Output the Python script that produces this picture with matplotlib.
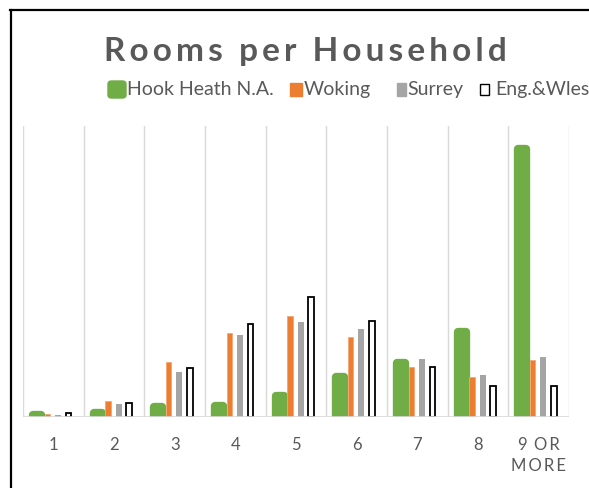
import matplotlib
matplotlib.use('Agg')
import matplotlib.pyplot as plt
import numpy as np
from matplotlib.patches import Rectangle, FancyBboxPatch
from matplotlib.lines import Line2D

# %%
categories = ['1', '2', '3', '4', '5', '6', '7', '8', '9 OR\nMORE']
series_names = ['Hook Heath N.A.', 'Woking', 'Surrey', 'Eng.&Wles']
hook_heath = [0.4, 0.8, 2.1, 2.3, 4.3, 8.2, 11.1, 17.5, 55.3]
woking = [0.6, 3.3, 11.3, 17.3, 20.8, 16.5, 10.3, 8.2, 11.8]
surrey = [0.4, 2.7, 9.3, 16.9, 19.6, 18.1, 12.0, 8.7, 12.4]
eng_wales = [0.8, 2.9, 10.1, 19.2, 24.7, 19.8, 10.3, 6.4, 6.4]

col_green = '#70AD47'
col_orange = '#ED7D31'
col_grey = '#A5A5A5'
col_text = '#595959'
fam = ['Lato', 'DejaVu Sans']

# %%
fig = plt.figure(figsize=(5.89, 4.88), dpi=100)
ax = fig.add_axes([23/589, 71/488, 546/589, 291/488])

x = np.arange(1, len(categories) + 1)

# green bars drawn with thick rounded edge like the Excel look
ax.bar(x - 0.27, hook_heath, 0.13, color=col_green, edgecolor=col_green,
       linewidth=6, joinstyle='round', zorder=3)
ax.bar(x - 0.10, woking, 0.085, color=col_orange, edgecolor='#F4A675',
       linewidth=0.6, zorder=3)
ax.bar(x + 0.075, surrey, 0.10, color=col_grey, linewidth=0, zorder=3)
ax.bar(x + 0.25, eng_wales, 0.09, color='white', edgecolor='black',
       linewidth=1.3, zorder=3)

ax.set_xlim(0.5, len(categories) + 0.5)
ax.set_ylim(0, 60)
for xv in np.arange(0.5, len(categories) + 1, 1):
    ax.axvline(xv, color='#D9D9D9', lw=1, zorder=1)
ax.axhline(0, color='#D9D9D9', lw=1.2, zorder=4)

for s in ax.spines.values():
    s.set_visible(False)
ax.set_yticks([])
ax.set_xticks(x)
ax.set_xticklabels([])
ax.tick_params(length=0)

# category labels, letter spaced
lbls = ['1', '2', '3', '4', '5', '6', '7', '8', '9\u2009\u2009\u2009O\u2009R\nM\u2009O\u2009R\u2009E']
for xi, lb in zip(x, lbls):
    ax.text(xi, -4.2, lb, ha='center', va='top', fontsize=12, color=col_text,
            family=fam, linespacing=1.35)

# title
fig.text(305/589, 1 - 52/488, 'R\u2009o\u2009o\u2009m\u2009s  p\u2009e\u2009r  H\u2009o\u2009u\u2009s\u2009e\u2009h\u2009o\u2009l\u2009d',
         ha='center', va='center', fontsize=24, fontweight='bold', color=col_text, family=fam)

# legend built by hand so the cut-off at the right edge matches
ly = 1 - 89.5/488
fs_leg = 14
fig.patches.append(FancyBboxPatch((108/589, 1 - 98/488), 18/589, 17/488,
                                  boxstyle='round,pad=0,rounding_size=0.006',
                                  transform=fig.transFigure, color=col_green))
fig.text(127/589, ly, 'Hook Heath N.A.', ha='left', va='center', fontsize=fs_leg, color=col_text, family=fam)
fig.patches.append(Rectangle((290/589, 1 - 95.5/488), 12/589, 12/488,
                             transform=fig.transFigure, color=col_orange))
fig.text(304/589, ly, 'Woking', ha='left', va='center', fontsize=fs_leg, color=col_text, family=fam)
fig.patches.append(Rectangle((397/589, 1 - 95.5/488), 9/589, 12/488,
                             transform=fig.transFigure, color=col_grey))
fig.text(407/589, ly, 'Surrey', ha='left', va='center', fontsize=fs_leg, color=col_text, family=fam)
fig.patches.append(Rectangle((480/589, 1 - 95/488), 9/589, 11/488,
                             transform=fig.transFigure, facecolor='white', edgecolor='black', lw=1))
fig.text(495/589, ly, 'Eng.&Wles', ha='left', va='center', fontsize=fs_leg, color=col_text, family=fam)

# chart frame, cut off on the right and bottom
fig.add_artist(Line2D([10.5/589, 10.5/589], [0, 1 - 10/488], transform=fig.transFigure,
                      color='black', lw=1.6))
fig.add_artist(Line2D([10/589, 1], [1 - 10/488, 1 - 10/488], transform=fig.transFigure,
                      color='black', lw=1.6))

fig.savefig('out.png', dpi=100)
